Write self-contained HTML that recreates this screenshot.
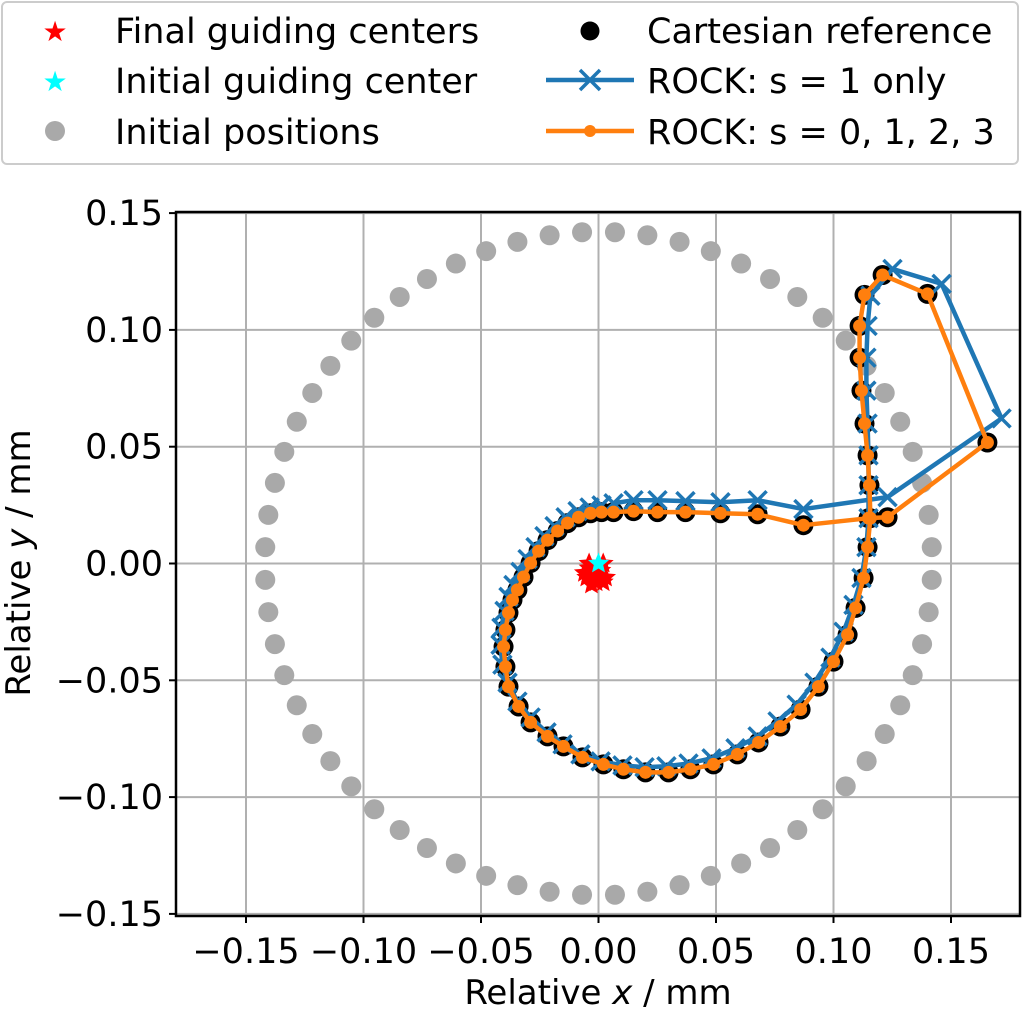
<!DOCTYPE html>
<html><head><meta charset="utf-8">
<style>
html,body{margin:0;padding:0;background:#fff;}
svg{display:block;font-family:"DejaVu Sans","Liberation Sans",sans-serif;}
</style></head>
<body>
<svg id="chart" width="1024" height="1012" viewBox="0 0 1024 1012" xmlns="http://www.w3.org/2000/svg">
  <g id="grid"></g>
  <g id="series"></g>
  <g id="axes"></g>
  <text x="598" y="1004" font-size="34" text-anchor="middle">Relative <tspan font-style="italic">x</tspan> / mm</text>
  <text transform="translate(30,563) rotate(-90)" font-size="34" text-anchor="middle">Relative <tspan font-style="italic">y</tspan> / mm</text>
  <g id="legend">
    <rect x="2" y="2" width="1016" height="162" rx="5" fill="#fff" stroke="#ccc" stroke-width="2"/>
    <g>
      <text x="55" y="41" font-size="28" fill="red" text-anchor="middle">★</text>
      <text x="115" y="43" font-size="35">Final guiding centers</text>
    </g>
    <g>
      <text x="55" y="91" font-size="28" fill="cyan" text-anchor="middle">★</text>
      <text x="115" y="93" font-size="35">Initial guiding center</text>
    </g>
    <g>
      <circle cx="55" cy="131" r="10" fill="#a9a9a9"/>
      <text x="115" y="144" font-size="35">Initial positions</text>
    </g>
    <g>
      <circle cx="590" cy="31" r="9.5" fill="#000"/>
      <text x="647" y="43" font-size="35">Cartesian reference</text>
    </g>
    <g>
      <line x1="546" y1="80" x2="634" y2="80" stroke="#1f77b4" stroke-width="4.5"/>
      <path d="M580 70 L600 90 M580 90 L600 70" stroke="#1f77b4" stroke-width="3.5"/>
      <text x="647" y="93" font-size="35">ROCK: s = 1 only</text>
    </g>
    <g>
      <line x1="546" y1="131" x2="634" y2="131" stroke="#ff7f0e" stroke-width="4.5"/>
      <circle cx="590" cy="131" r="6" fill="#ff7f0e"/>
      <text x="647" y="144" font-size="35">ROCK: s = 0, 1, 2, 3</text>
    </g>
  </g>
</svg>
<script>
const xTicks = [-0.15,-0.10,-0.05,0.00,0.05,0.10,0.15];
const yTicks = [-0.15,-0.10,-0.05,0.00,0.05,0.10,0.15];
const xTickLabels = ["−0.15","−0.10","−0.05","0.00","0.05","0.10","0.15"];
const yTickLabels = ["−0.15","−0.10","−0.05","0.00","0.05","0.10","0.15"];
const initX = [.1418,.1405,.1377,.1337,.1284,.1218,.1141,.1052,.0954,.0846,.0730,.0607,.0478,.0345,.0208,.0070,
 -.0070,-.0208,-.0345,-.0478,-.0607,-.0730,-.0846,-.0954,-.1052,-.1141,-.1218,-.1284,-.1337,-.1377,-.1405,-.1418,
 -.1418,-.1405,-.1377,-.1337,-.1284,-.1218,-.1141,-.1052,-.0954,-.0846,-.0730,-.0607,-.0478,-.0345,-.0208,-.0070,
 .0070,.0208,.0345,.0478,.0607,.0730,.0846,.0954,.1052,.1141,.1218,.1284,.1337,.1377,.1405,.1418];
const initY = [.0070,.0208,.0345,.0478,.0607,.0730,.0846,.0954,.1052,.1141,.1218,.1284,.1337,.1377,.1405,.1418,
 .1418,.1405,.1377,.1337,.1284,.1218,.1141,.1052,.0954,.0846,.0730,.0607,.0478,.0345,.0208,.0070,
 -.0070,-.0208,-.0345,-.0478,-.0607,-.0730,-.0846,-.0954,-.1052,-.1141,-.1218,-.1284,-.1337,-.1377,-.1405,-.1418,
 -.1418,-.1405,-.1377,-.1337,-.1284,-.1218,-.1141,-.1052,-.0954,-.0846,-.0730,-.0607,-.0478,-.0345,-.0208,-.0070];
const rockAllX = [0.0064,0.0149,0.0251,0.037,0.0519,0.0677,0.0872,0.1149,0.123,0.1655,0.14,0.1209,0.1132,0.1111,0.1111,0.1119,0.1132,0.1145,0.1153,0.1157,0.1145,0.1128,0.1094,0.106,0.1,0.0936,0.086,0.0774,0.0681,0.0591,0.0489,0.0391,0.0298,0.02,0.0106,0.0021,-0.0068,-0.0149,-0.0217,-0.0289,-0.034,-0.0383,-0.0396,-0.0404,-0.0396,-0.0383,-0.0366,-0.0345,-0.0319,-0.0289,-0.0255,-0.0217,-0.0174,-0.0132,-0.0085,-0.0034,0.0013];
const rockAllY = [0.022,0.0224,0.022,0.022,0.0215,0.0211,0.0164,0.0194,0.0198,0.0518,0.1154,0.1235,0.115,0.1017,0.0881,0.074,0.0599,0.0463,0.0335,0.0194,0.007,-0.0062,-0.019,-0.0305,-0.042,-0.0527,-0.0625,-0.0698,-0.0766,-0.0817,-0.086,-0.0881,-0.0894,-0.0894,-0.0881,-0.086,-0.083,-0.0783,-0.074,-0.068,-0.0612,-0.0527,-0.0442,-0.0356,-0.0284,-0.0211,-0.0156,-0.0113,-0.0058,0.0002,0.0053,0.01,0.0139,0.0173,0.0198,0.0215,0.022];
const cartX = [0.0064,0.0149,0.0251,0.037,0.0519,0.0677,0.0872,0.1149,0.123,0.1655,0.14,0.1209,0.1132,0.1111,0.1111,0.1119,0.1132,0.1145,0.1153,0.1157,0.1145,0.1128,0.1094,0.106,0.1,0.0936,0.086,0.0774,0.0681,0.0591,0.0489,0.0391,0.0298,0.02,0.0106,0.0021,-0.0068,-0.0149,-0.0217,-0.0289,-0.034,-0.0383,-0.0396,-0.0404,-0.0396,-0.0383,-0.0366,-0.0345,-0.0319,-0.0289,-0.0255,-0.0217,-0.0174,-0.0132,-0.0085,-0.0034,0.0013];
const cartY = [0.022,0.0224,0.022,0.022,0.0215,0.0211,0.0164,0.0194,0.0198,0.0518,0.1154,0.1235,0.115,0.1017,0.0881,0.074,0.0599,0.0463,0.0335,0.0194,0.007,-0.0062,-0.019,-0.0305,-0.042,-0.0527,-0.0625,-0.0698,-0.0766,-0.0817,-0.086,-0.0881,-0.0894,-0.0894,-0.0881,-0.086,-0.083,-0.0783,-0.074,-0.068,-0.0612,-0.0527,-0.0442,-0.0356,-0.0284,-0.0211,-0.0156,-0.0113,-0.0058,0.0002,0.0053,0.01,0.0139,0.0173,0.0198,0.0215,0.022];
const rockS1X = [0.0064,0.0149,0.0251,0.037,0.0519,0.0677,0.0872,0.123,0.1715,0.146,0.1251,0.1157,0.1145,0.114,0.114,0.1145,0.1149,0.1149,0.1149,0.114,0.1119,0.1085,0.1043,0.0987,0.0919,0.0843,0.0762,0.0677,0.0583,0.0481,0.0383,0.0289,0.0196,0.0102,0.0009,-0.0077,-0.0153,-0.0221,-0.0289,-0.0345,-0.0387,-0.0409,-0.0417,-0.0413,-0.04,-0.0383,-0.0362,-0.0332,-0.0302,-0.0268,-0.023,-0.0187,-0.014,-0.0089,-0.0038,0.0013];
const rockS1Y = [0.0258,0.0271,0.0271,0.0267,0.0262,0.0271,0.0233,0.0284,0.0621,0.1197,0.1261,0.1146,0.1017,0.0881,0.074,0.0599,0.0463,0.0335,0.0194,0.007,-0.0062,-0.0177,-0.0292,-0.0403,-0.051,-0.0604,-0.0676,-0.074,-0.0791,-0.0834,-0.0856,-0.0868,-0.0872,-0.0864,-0.0847,-0.0817,-0.0774,-0.0723,-0.0659,-0.0591,-0.051,-0.0433,-0.0348,-0.0275,-0.0203,-0.0143,-0.0092,-0.0036,0.0019,0.007,0.0117,0.016,0.0198,0.0224,0.024,0.0249];
const finalX = [-0.004,-0.002,0.001,0.003,-0.005,-0.001,0.002,-0.003,0.000,0.002,-0.004,-0.006];
const finalY = [-0.002,-0.004,-0.003,-0.006,-0.006,-0.008,-0.008,-0.009,-0.005,0.000,0.000,-0.004];
const initCenterX = [0.0];
const initCenterY = [0.0];

const NS = "http://www.w3.org/2000/svg";
const L = 176, R = 1020, T = 212, B = 916;
const X0 = 598.5, PXU = 2350;
const Y0 = 563.5, PYU = 2336;
function sx(v){ return X0 + v*PXU; }
function sy(v){ return Y0 - v*PYU; }
function mk(tag, attrs, parent){ const e=document.createElementNS(NS,tag); for(const k in attrs) e.setAttribute(k,attrs[k]); parent.appendChild(e); return e; }

const grid = document.getElementById('grid');
const axes = document.getElementById('axes');
const ser = document.getElementById('series');

const defs = mk('defs',{},document.getElementById('chart'));
const cp = mk('clipPath',{id:'clip'},defs);
mk('rect',{x:L,y:T,width:R-L,height:B-T},cp);
ser.setAttribute('clip-path','url(#clip)');

xTicks.forEach((t,i)=>{
  const x = sx(t);
  const g = mk('line',{x1:x,y1:T,x2:x,y2:B,stroke:'#b0b0b0','stroke-width':2},grid);
  
  
  const tk = mk('line',{x1:x,y1:B,x2:x,y2:B+7,stroke:'#000','stroke-width':2},axes);
  
  
  const lb = mk('text',{x:x,y:B+47,'font-size':35,'text-anchor':'middle'},axes);
  lb.textContent = xTickLabels[i];
  
  
});
yTicks.forEach((t,i)=>{
  const y = sy(t);
  const g = mk('line',{x1:L,y1:y,x2:R,y2:y,stroke:'#b0b0b0','stroke-width':2},grid);
  
  
  const tk = mk('line',{x1:L-7,y1:y,x2:L,y2:y,stroke:'#000','stroke-width':2},axes);
  
  
  const lb = mk('text',{x:L-13,y:y+12,'font-size':35,'text-anchor':'end'},axes);
  lb.textContent = yTickLabels[i];
  
  
});
const frame = mk('rect',{x:L,y:T,width:R-L,height:B-T,fill:'none',stroke:'#000','stroke-width':2.5},axes);



initX.forEach((v,i)=>{
  const c = mk('circle',{cx:sx(v),cy:sy(initY[i]),r:10,fill:'#a9a9a9'},ser);
  
  
});
cartX.forEach((v,i)=>{
  const c = mk('circle',{cx:sx(v),cy:sy(cartY[i]),r:10,fill:'#000'},ser);
  
  
});
const p1 = mk('polyline',{points:rockS1X.map((v,i)=>sx(v)+','+sy(rockS1Y[i])).join(' '),fill:'none',stroke:'#1f77b4','stroke-width':4.5,'stroke-linejoin':'round'},ser);


rockS1X.forEach((v,i)=>{
  const x=sx(v), y=sy(rockS1Y[i]), s=9;
  const m = mk('path',{d:`M${x-s} ${y-s} L${x+s} ${y+s} M${x-s} ${y+s} L${x+s} ${y-s}`,stroke:'#1f77b4','stroke-width':3.5},ser);
  
  
});
const p2 = mk('polyline',{points:rockAllX.map((v,i)=>sx(v)+','+sy(rockAllY[i])).join(' '),fill:'none',stroke:'#ff7f0e','stroke-width':4.5,'stroke-linejoin':'round'},ser);


rockAllX.forEach((v,i)=>{
  const c = mk('circle',{cx:sx(v),cy:sy(rockAllY[i]),r:6.5,fill:'#ff7f0e'},ser);
  
  
});
function star(x,y,r,color){
  let d='';
  for(let k=0;k<10;k++){
    const a=-Math.PI/2+k*Math.PI/5, rr=k%2?r*0.45:r;
    d+=(k?'L':'M')+(x+rr*Math.cos(a)).toFixed(2)+' '+(y+rr*Math.sin(a)).toFixed(2);
  }
  return mk('path',{d:d+'Z',fill:color},ser);
}
finalX.forEach((v,i)=>{
  const s = star(sx(v),sy(finalY[i]),11,'red');
  
  
});
initCenterX.forEach((v,i)=>{
  const s = star(sx(v),sy(initCenterY[i]),11,'cyan');
  
  
});
</script>
</body></html>
